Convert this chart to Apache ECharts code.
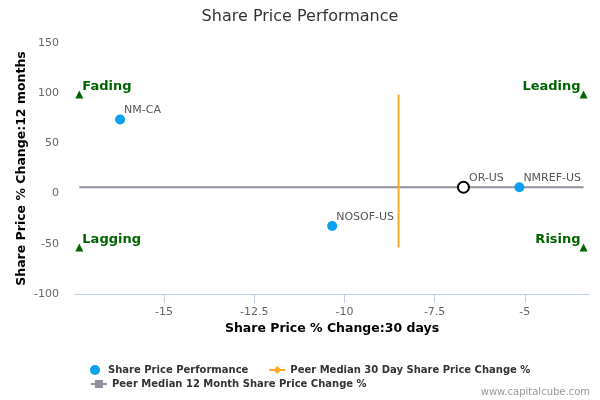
<!DOCTYPE html>
<html>
<head>
<meta charset="utf-8">
<script src="https://cdn.jsdelivr.net/npm/echarts@6/dist/echarts.min.js"></script>
<style>html,body{margin:0;padding:0;background:#fff}#chart{width:600px;height:400px}</style>
</head>
<body>
<div id="chart"></div>
<script>
// ---- data ----
const companies = ['NM-CA', 'NOSOF-US', 'OR-US', 'NMREF-US'];
const change30d = [-16.22, -10.34, -6.70, -5.15];
const change12m = [73.8, -32.2, 6.3, 6.3];
const highlightCompany = 'OR-US';
const peerMedian30d = -8.5;
const peerMedian12m = 6.3;
const quadrantNames = ['Fading', 'Leading', 'Lagging', 'Rising'];
const quadrantX = [-17.35, -3.37, -17.35, -3.37];
const quadrantY = [98.6, 98.6, -53.6, -53.6];
const xTickValues = [-15, -12.5, -10, -7.5, -5];
const yTickValues = [-100, -50, 0, 50, 100, 150];

const FONT = 'DejaVu Sans';
const xMin = Math.min(...quadrantX), xMax = Math.max(...quadrantX);
const yMin = Math.min(...quadrantY), yMax = Math.max(...quadrantY);

const companyData = companies.map((c, i) => {
  const item = { name: c, value: [change30d[i], change12m[i]] };
  if (c === highlightCompany) {
    item.symbolSize = 11;
    item.itemStyle = { color: '#ffffff', borderColor: '#000000', borderWidth: 2, opacity: 1 };
    item.label = { offset: [-6, -9] };
  }
  return item;
});

const quadrantData = quadrantNames.map((q, i) => {
  const right = quadrantX[i] === xMax;
  return {
    name: q,
    value: [quadrantX[i], quadrantY[i]],
    label: right ? { position: 'left', offset: [6, -8] } : { position: 'right', offset: [-6, -8] }
  };
});

const chart = echarts.init(document.getElementById('chart'), null, { renderer: 'canvas' });
chart.setOption({
  animation: false,
  backgroundColor: '#ffffff',
  textStyle: { fontFamily: FONT },
  title: {
    text: 'Share Price Performance',
    left: 'center', top: 4,
    textStyle: { fontFamily: FONT, fontSize: 16, fontWeight: 'normal', color: '#333333' }
  },
  grid: { left: 75, right: 11, top: 43, bottom: 106, outerBoundsMode: 'none' },
  legend: [
    {
      data: ['Share Price Performance', 'Peer Median 30 Day Share Price Change %'],
      left: 85, top: 359, itemWidth: 16, itemHeight: 10, itemGap: 20,
      textStyle: { fontFamily: FONT, fontSize: 10, fontWeight: 'bold', color: '#333333', lineHeight: 12 }
    },
    {
      data: ['Peer Median 12 Month Share Price Change %'],
      left: 85, top: 373, itemWidth: 16, itemHeight: 10, itemGap: 20,
      textStyle: { fontFamily: FONT, fontSize: 10, fontWeight: 'bold', color: '#333333', lineHeight: 12 }
    }
  ],
  graphic: [{
    type: 'text', right: 10, top: 387,
    style: { text: 'www.capitalcube.com', fill: '#999999', font: '10px "DejaVu Sans"' }
  }],
  xAxis: {
    type: 'value', min: -17.47, max: -3.22,
    name: 'Share Price % Change:30 days', nameLocation: 'middle', nameGap: 28, nameMoveOverlap: false,
    nameTextStyle: { fontFamily: FONT, fontSize: 12.5, fontWeight: 'bold', color: '#000000' },
    axisLine: { show: true, onZero: false, lineStyle: { color: '#C0D0E0', width: 1 } },
    axisTick: { show: true, length: 9, customValues: xTickValues, lineStyle: { color: '#C0D0E0' } },
    axisLabel: { customValues: xTickValues, color: '#666666', fontSize: 11, margin: 13, fontFamily: FONT },
    splitLine: { show: false }
  },
  yAxis: {
    type: 'value', min: -100, max: 150, interval: 50,
    name: 'Share Price % Change:12 months', nameLocation: 'middle', nameGap: 47, nameRotate: 90,
    nameMoveOverlap: false,
    nameTextStyle: { fontFamily: FONT, fontSize: 12.5, fontWeight: 'bold', color: '#000000' },
    axisLine: { show: false }, axisTick: { show: false },
    axisLabel: { color: '#666666', fontSize: 11, margin: 16, fontFamily: FONT },
    splitLine: { show: false }
  },
  series: [
    {
      name: 'Peer Median 12 Month Share Price Change %',
      type: 'line', symbol: 'rect', showSymbol: false, silent: true,
      itemStyle: { color: '#8E929C' },
      lineStyle: { color: '#8E929C', width: 2 },
      data: [[xMin, peerMedian12m], [xMax, peerMedian12m]], z: 1
    },
    {
      name: 'Peer Median 30 Day Share Price Change %',
      type: 'line', symbol: 'diamond', showSymbol: false, silent: true,
      itemStyle: { color: '#FFA726' },
      lineStyle: { color: '#FFA726', width: 2 },
      data: [[peerMedian30d, yMin], [peerMedian30d, yMax]], z: 2
    },
    {
      name: 'Share Price Performance',
      type: 'scatter', symbol: 'circle', symbolSize: 10,
      itemStyle: { color: '#0AA0F0', opacity: 1 },
      label: {
        show: true, position: 'right', offset: [-6, -9], formatter: '{b}',
        color: '#555555', fontSize: 11, fontFamily: FONT
      },
      data: companyData, z: 5
    },
    {
      name: 'Quadrants',
      type: 'scatter', symbol: 'triangle', symbolSize: 8, silent: true,
      itemStyle: { color: '#006400', opacity: 1 },
      label: {
        show: true, formatter: '{b}', color: '#006400', fontSize: 13, fontWeight: 'bold', fontFamily: FONT
      },
      data: quadrantData, z: 4
    }
  ]
});
</script>
</body>
</html>
